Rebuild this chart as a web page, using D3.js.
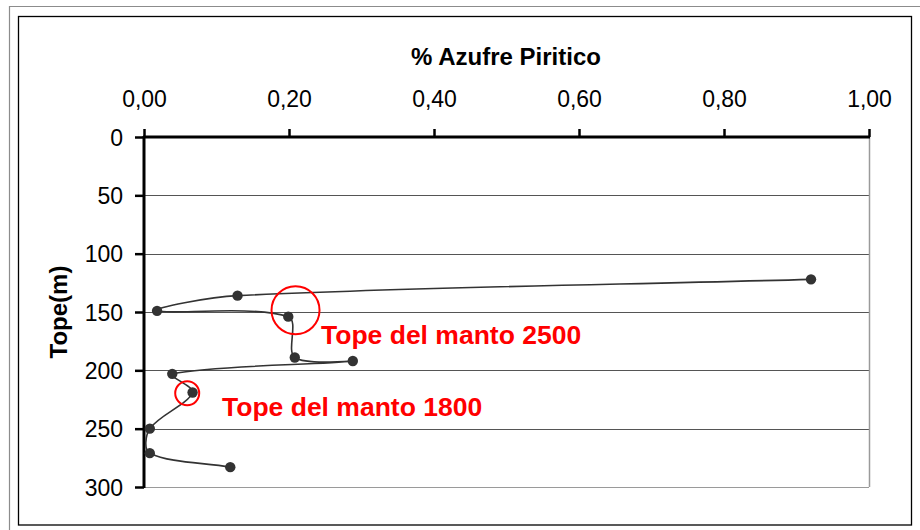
<!DOCTYPE html>
<html>
<head>
<meta charset="utf-8">
<script src="https://cdn.jsdelivr.net/npm/d3@7"></script>
<style>
  html, body { margin: 0; padding: 0; background: #fff; }
  svg { display: block; font-family: "Liberation Sans", Arial, sans-serif; }
</style>
</head>
<body>
<svg id="chart" width="920" height="530"></svg>
<script>
// Pyritic sulfur (%) measured against the top depth of each sample (m)
const sulfurPct = [0.92, 0.129, 0.018, 0.199, 0.208, 0.288, 0.039, 0.067, 0.008, 0.008, 0.119];
const depthTop  = [122, 136, 149, 154, 189, 192, 203, 219, 250, 271, 283];

const xTicks = [0, 0.2, 0.4, 0.6, 0.8, 1.0];
const yTicks = [0, 50, 100, 150, 200, 250, 300];

// Highlighted seam tops
const seamSulfur = [0.209, 0.0596];
const seamDepth  = [148.5, 219.7];
const seamRadius = [24, 12];
const seamLabels = ["Tope del manto 2500", "Tope del manto 1800"];

// Smoothed line: cubic Béziers whose tangents follow the neighbouring points,
// with handle lengths weighted by the chord lengths on each side.
function curveChordSmooth(context) {
  let pts = [];
  return {
    areaStart() {}, areaEnd() {},
    lineStart() { pts = []; },
    point(x, y) { pts.push([+x, +y]); },
    lineEnd() {
      const n = pts.length;
      if (!n) return;
      context.moveTo(pts[0][0], pts[0][1]);
      if (n === 1) return;
      const dist = (a, b) => Math.hypot(b[0] - a[0], b[1] - a[1]);
      for (let i = 0; i < n - 1; i++) {
        const p0 = pts[Math.max(i - 1, 0)], p1 = pts[i], p2 = pts[i + 1], p3 = pts[Math.min(i + 2, n - 1)];
        const seg = dist(p1, p2);
        const dPrev = dist(p0, p1), dNext = dist(p2, p3);
        let c1, c2;
        if (i === 0) {
          c1 = [p1[0] + (p2[0] - p1[0]) / 3, p1[1] + (p2[1] - p1[1]) / 3];
        } else {
          const w = seg / (dPrev + seg) / 3;
          c1 = [p1[0] + (p2[0] - p0[0]) * w, p1[1] + (p2[1] - p0[1]) * w];
        }
        if (i === n - 2) {
          c2 = [p2[0] - (p2[0] - p1[0]) / 3, p2[1] - (p2[1] - p1[1]) / 3];
        } else {
          const w = seg / (dNext + seg) / 3;
          c2 = [p2[0] - (p3[0] - p1[0]) * w, p2[1] - (p3[1] - p1[1]) * w];
        }
        context.bezierCurveTo(c1[0], c1[1], c2[0], c2[1], p2[0], p2[1]);
      }
    }
  };
}

const svg = d3.select("#chart");

// outer cell frame
svg.append("path")
  .attr("d", "M9.5,530 V6.5 H920")
  .attr("fill", "none").attr("stroke", "#8c8c8c").attr("stroke-width", 1.2);
// chart frame
svg.append("rect")
  .attr("x", 18.5).attr("y", 16.5).attr("width", 893).attr("height", 508.5)
  .attr("fill", "#fff").attr("stroke", "#000").attr("stroke-width", 1.3);

const plot = { left: 144, right: 869, top: 137, bottom: 487 };
const x = d3.scaleLinear().domain([0, 1]).range([plot.left, plot.right]);
const y = d3.scaleLinear().domain([0, 300]).range([plot.top, plot.bottom]);

// horizontal gridlines
svg.append("g").selectAll("line")
  .data(yTicks.filter(t => t > 0))
  .join("line")
  .attr("x1", plot.left).attr("x2", plot.right)
  .attr("y1", d => Math.round(y(d)) + 0.5).attr("y2", d => Math.round(y(d)) + 0.5)
  .attr("stroke", d => d === 300 ? "#9a9a9a" : "#555").attr("stroke-width", 1);

// plot area right border
svg.append("line")
  .attr("x1", plot.right + 0.5).attr("x2", plot.right + 0.5)
  .attr("y1", plot.top).attr("y2", plot.bottom)
  .attr("stroke", "#9a9a9a").attr("stroke-width", 1.5);

// top x axis
const xAxis = d3.axisTop(x)
  .tickValues(xTicks)
  .tickFormat(d => d3.format(".2f")(d).replace(".", ","))
  .tickSize(8).tickPadding(22);
const gx = svg.append("g").attr("transform", `translate(0,${plot.top})`).call(xAxis);
gx.select(".domain").attr("stroke", "#000").attr("stroke-width", 3)
  .attr("d", `M${plot.left - 1},0H${plot.right + 1}`);
gx.selectAll(".tick line").attr("stroke", "#000").attr("stroke-width", 2.5);
gx.selectAll(".tick text")
  .attr("font-size", 23).attr("fill", "#000")
  .attr("font-family", "'Liberation Sans', Arial, sans-serif")
  .attr("dy", 0).attr("y", 107 - plot.top);

// left y axis
const yAxis = d3.axisLeft(y)
  .tickValues(yTicks)
  .tickSize(9).tickPadding(12);
const gy = svg.append("g").attr("transform", `translate(${plot.left},0)`).call(yAxis);
gy.select(".domain").attr("stroke", "#000").attr("stroke-width", 3)
  .attr("d", `M0,${plot.top - 1}V${plot.bottom + 1}`);
gy.selectAll(".tick line").attr("stroke", "#000").attr("stroke-width", 2.5);
gy.selectAll(".tick text")
  .attr("font-size", 23).attr("fill", "#000")
  .attr("font-family", "'Liberation Sans', Arial, sans-serif")
  .attr("dy", "0.36em");

// axis titles
svg.append("text")
  .attr("x", 506).attr("y", 65)
  .attr("text-anchor", "middle")
  .attr("font-size", 24).attr("font-weight", "bold")
  .text("% Azufre Piritico");
svg.append("text")
  .attr("transform", "translate(67,312) rotate(-90)")
  .attr("text-anchor", "middle")
  .attr("font-size", 24).attr("font-weight", "bold")
  .text("Tope(m)");

// smoothed profile
const pts = sulfurPct.map((v, i) => [x(v), y(depthTop[i])]);
svg.append("path")
  .attr("d", d3.line().curve(curveChordSmooth)(pts))
  .attr("fill", "none").attr("stroke", "#333").attr("stroke-width", 1.6);
svg.append("g").selectAll("circle")
  .data(pts)
  .join("circle")
  .attr("cx", d => d[0]).attr("cy", d => d[1]).attr("r", 5.2)
  .attr("fill", "#333");

// seam markers
svg.append("g").selectAll("circle")
  .data(seamSulfur)
  .join("circle")
  .attr("cx", d => x(d)).attr("cy", (d, i) => y(seamDepth[i]))
  .attr("r", (d, i) => seamRadius[i])
  .attr("fill", "none").attr("stroke", "#ff0000").attr("stroke-width", 2);

const labelPos = [[321, 344], [222, 416]];
svg.append("g").selectAll("text")
  .data(seamLabels)
  .join("text")
  .attr("x", (d, i) => labelPos[i][0]).attr("y", (d, i) => labelPos[i][1])
  .attr("font-size", 26.5).attr("font-weight", "bold").attr("fill", "#ff0000")
  .text(d => d);
</script>
</body>
</html>
